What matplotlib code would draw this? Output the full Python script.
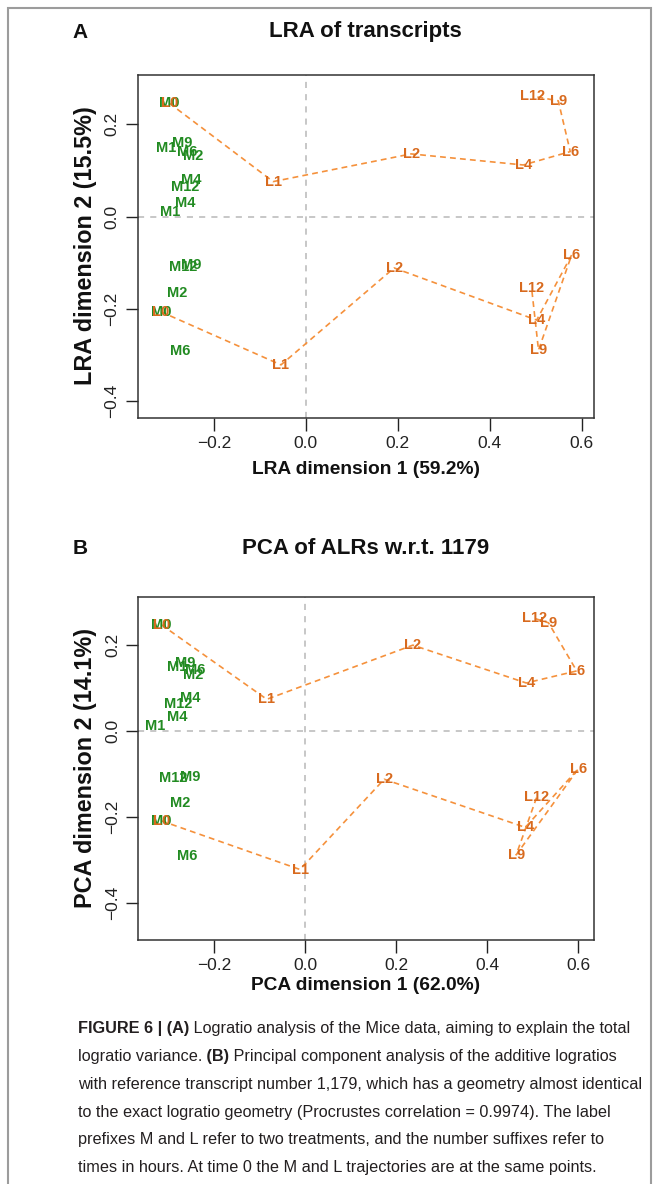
import matplotlib
matplotlib.use("Agg")
import matplotlib.pyplot as plt
from matplotlib import font_manager as fm
from matplotlib.patches import Rectangle

# ---- data -----------------------------------------------------------------
times = ["0", "1", "2", "4", "6", "9", "12"]
m_labels = ["M" + t for t in times]
l_labels = ["L" + t for t in times]

# Panel A: logratio analysis, two replicate trajectories per treatment
lra_m1_x = [-0.297, -0.304, -0.245, -0.249, -0.258, -0.269, -0.262]
lra_m1_y = [0.246, 0.149, 0.131, 0.079, 0.140, 0.160, 0.064]
lra_m2_x = [-0.315, -0.295, -0.280, -0.262, -0.273, -0.249, -0.267]
lra_m2_y = [-0.206, 0.010, -0.165, 0.030, -0.291, -0.105, -0.109]
lra_l1_x = [-0.297, -0.071, 0.229, 0.473, 0.575, 0.549, 0.494]
lra_l1_y = [0.246, 0.076, 0.136, 0.112, 0.141, 0.251, 0.261]
lra_l2_x = [-0.315, -0.054, 0.192, 0.502, 0.578, 0.506, 0.491]
lra_l2_y = [-0.206, -0.321, -0.111, -0.224, -0.083, -0.289, -0.155]

# Panel B: PCA of additive logratios w.r.t. transcript 1179
pca_m1_x = [-0.315, -0.280, -0.245, -0.253, -0.242, -0.264, -0.278]
pca_m1_y = [0.247, 0.150, 0.130, 0.076, 0.142, 0.159, 0.064]
pca_m2_x = [-0.315, -0.330, -0.274, -0.280, -0.258, -0.253, -0.290]
pca_m2_y = [-0.209, 0.012, -0.167, 0.032, -0.291, -0.106, -0.110]
pca_l1_x = [-0.315, -0.084, 0.237, 0.486, 0.597, 0.535, 0.505]
pca_l1_y = [0.247, 0.074, 0.200, 0.112, 0.140, 0.252, 0.262]
pca_l2_x = [-0.315, -0.011, 0.174, 0.484, 0.601, 0.464, 0.509]
pca_l2_y = [-0.209, -0.322, -0.112, -0.224, -0.087, -0.288, -0.154]

x_ticks = [-0.2, 0.0, 0.2, 0.4, 0.6]
y_ticks = [-0.4, -0.2, 0.0, 0.2]

caption_lines = [
    [("FIGURE 6 | (A)", True), (" Logratio analysis of the Mice data, aiming to explain the total", False)],
    [("logratio variance.", False), (" (B)", True), (" Principal component analysis of the additive logratios", False)],
    [("with reference transcript number 1,179, which has a geometry almost identical", False)],
    [("to the exact logratio geometry (Procrustes correlation = 0.9974). The label", False)],
    [("prefixes M and L refer to two treatments, and the number suffixes refer to", False)],
    [("times in hours. At time 0 the M and L trajectories are at the same points.", False)],
]

# ---- style ----------------------------------------------------------------
available = {f.name for f in fm.fontManager.ttflist}
SANS = "Liberation Sans"
NARROW = "Liberation Sans Narrow" if "Liberation Sans Narrow" in available else SANS

GREEN = "#228B22"
ORANGE_TXT = "#D86A1E"
ORANGE_LINE = "#F5913C"
ZERO = "#b8b8b8"
INK = "#111111"

W, H = 655, 1184
fig = plt.figure(figsize=(W / 100, H / 100), dpi=100)
fig.patch.set_facecolor("white")


def fx(x):
    return x / W


def fy(y):
    return 1 - y / H


# outer frame of the figure
fig.add_artist(Rectangle((fx(8), fy(1200)), fx(643), (1200 - 8) / H,
                         transform=fig.transFigure, fill=False,
                         edgecolor="#9c9c9c", linewidth=1.5))


def panel(box, xlim, ylim, mx1, my1, mx2, my2, lx1, ly1, lx2, ly2,
          letter, title, xlabel, ylabel, title_y, xlab_y):
    left, top, right, bottom = box
    ax = fig.add_axes([fx(left), fy(bottom), fx(right - left), (bottom - top) / H])
    ax.set_xlim(*xlim)
    ax.set_ylim(*ylim)
    ax.axhline(0, color=ZERO, lw=1.1, ls=(0, (4, 4)), zorder=1)
    ax.axvline(0, color=ZERO, lw=1.1, ls=(0, (4, 4)), zorder=1)
    for xs, ys in ((lx1, ly1), (lx2, ly2)):
        ax.plot(xs, ys, color=ORANGE_LINE, lw=1.2, ls=(0, (3.5, 2.5)), zorder=2)
    for xs, ys in ((mx1, my1), (mx2, my2)):
        for x, y, s in zip(xs, ys, m_labels):
            ax.text(x, y, s, ha="center", va="center", color=GREEN,
                    fontsize=10.5, fontweight="bold", family=SANS, zorder=3)
    for xs, ys in ((lx1, ly1), (lx2, ly2)):
        for x, y, s in zip(xs, ys, l_labels):
            ax.text(x, y, s, ha="center", va="center", color=ORANGE_TXT,
                    fontsize=10.5, fontweight="bold", family=SANS, zorder=4)
    ax.set_xticks(x_ticks)
    ax.set_xticklabels([f"{t:.1f}".replace("-", "\u2212") for t in x_ticks])
    ax.set_yticks(y_ticks)
    ax.set_yticklabels([f"{t:.1f}".replace("-", "\u2212") for t in y_ticks],
                       rotation=90, va="center")
    ax.tick_params(direction="out", length=9, width=1, labelsize=12.5,
                   colors="#222222", pad=4)
    for lab in ax.get_xticklabels() + ax.get_yticklabels():
        lab.set_family(NARROW)
    for sp in ax.spines.values():
        sp.set_linewidth(1.1)
        sp.set_color("#333333")
    fig.text(fx(80), fy(title_y), letter, ha="center", va="center",
             fontsize=15, fontweight="bold", family=SANS, color=INK)
    fig.text(fx((left + right) / 2), fy(title_y), title, ha="center", va="center",
             fontsize=16, fontweight="bold", family=NARROW, color=INK)
    fig.text(fx((left + right) / 2), fy(xlab_y), xlabel, ha="center", va="center",
             fontsize=13.8, fontweight="bold", family=NARROW, color=INK)
    fig.text(fx(86), fy((top + bottom) / 2), ylabel, ha="center", va="center",
             rotation=90, fontsize=16.8, fontweight="bold", family=SANS,
             color=INK)
    return ax


panel((137.5, 74.5, 593.7, 417.5), (-0.366, 0.626), (-0.435, 0.308),
      lra_m1_x, lra_m1_y, lra_m2_x, lra_m2_y,
      lra_l1_x, lra_l1_y, lra_l2_x, lra_l2_y,
      "A", "LRA of transcripts", "LRA dimension 1 (59.2%)",
      "LRA dimension 2 (15.5%)", 32, 470)

panel((138, 597, 594, 940), (-0.367, 0.635), (-0.486, 0.312),
      pca_m1_x, pca_m1_y, pca_m2_x, pca_m2_y,
      pca_l1_x, pca_l1_y, pca_l2_x, pca_l2_y,
      "B", "PCA of ALRs w.r.t. 1179", "PCA dimension 1 (62.0%)",
      "PCA dimension 2 (14.1%)", 548, 985)

# ---- caption with mixed bold / regular runs -------------------------------
fig.canvas.draw()
renderer = fig.canvas.get_renderer()

# size the caption so that its longest line spans the text column
cap_x0, cap_x1 = 78, 641
probe = fig.text(0, 0, caption_lines[2][0][0], fontsize=12, family=NARROW)
probe_w = probe.get_window_extent(renderer=renderer).width
probe.remove()
cap_size = 12 * (cap_x1 - cap_x0) / probe_w

cap_y0, cap_dy = 1029, 27.7
for i, runs in enumerate(caption_lines):
    x = cap_x0
    y = cap_y0 + i * cap_dy
    for text, bold in runs:
        t = fig.text(fx(x), fy(y), text, ha="left", va="center", fontsize=cap_size,
                     family=NARROW, fontweight="bold" if bold else "normal",
                     color="#231f20")
        bb = t.get_window_extent(renderer=renderer)
        x += bb.width

fig.savefig("out.png", dpi=100, facecolor="white")
